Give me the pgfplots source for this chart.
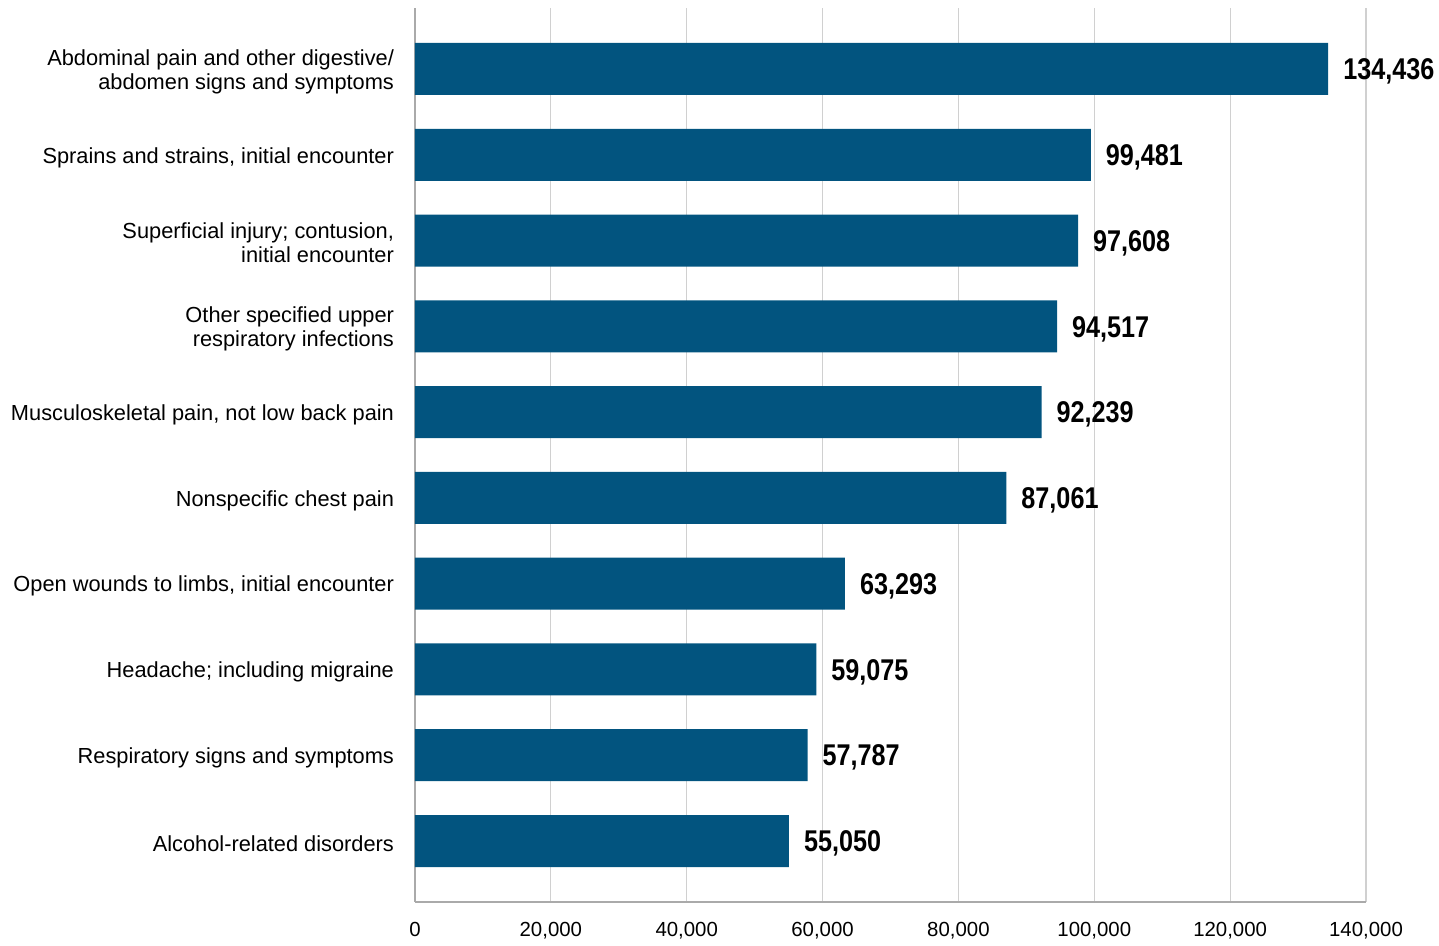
\documentclass[border=0pt]{standalone}
\usepackage{pgfplots}
\pgfplotsset{compat=1.18}
\usepackage{fontspec}
\setmainfont{Liberation Sans}
\definecolor{barblue}{RGB}{2,84,127}
\definecolor{gridgray}{RGB}{208,208,208}
\definecolor{axisgray}{RGB}{170,170,170}
\begin{document}
\begin{tikzpicture}
\path[use as bounding box] (-207.5pt,-22pt) rectangle (512pt,451pt);
\begin{axis}[
  at={(0,0)}, anchor=south west,
  scale only axis, width=475.5pt, height=447pt,
  xbar, bar width=26pt,
  xmin=0, xmax=140000,
  ymin=-0.711, ymax=9.711,
  ytick={0,...,9},
  yticklabels={
    {Alcohol-related disorders},
    {Respiratory signs and symptoms},
    {Headache; including migraine},
    {Open wounds to limbs, initial encounter},
    {Nonspecific chest pain},
    {Musculoskeletal pain, not low back pain},
    {Other specified upper\\respiratory infections},
    {Superficial injury; contusion,\\initial encounter},
    {Sprains and strains, initial encounter},
    {Abdominal pain and other digestive/\\abdomen signs and symptoms}},
  xtick={0,20000,40000,60000,80000,100000,120000,140000},
  xticklabels={0,{20,000},{40,000},{60,000},{80,000},{100,000},{120,000},{140,000}},
  axis x line*=bottom, axis y line*=left,
  axis line style={axisgray, line width=1.2pt, -},
  xmajorgrids, grid style={gridgray, line width=0.6pt},
  major tick length=0,
  yticklabel style={align=right, font=\fontsize{10.9}{12}\selectfont, xshift=-7pt, yshift=-1.3pt},
  xticklabel style={font=\fontsize{10.2}{12}\selectfont, inner sep=0pt, yshift=-10pt},
  point meta=explicit symbolic,
  nodes near coords={\scalebox{0.84}[1]{\pgfplotspointmeta}},
  nodes near coords style={anchor=west, xshift=4pt, yshift=-1.3pt, font=\fontsize{15}{18}\selectfont\bfseries},
]
\addplot[fill=barblue, draw=none] coordinates {
  (55050,0) [55,050] (57787,1) [57,787] (59075,2) [59,075] (63293,3) [63,293] (87061,4) [87,061]
  (92239,5) [92,239] (94517,6) [94,517] (97608,7) [97,608] (99481,8) [99,481] (134436,9) [134,436]
};
\end{axis}
\end{tikzpicture}
\end{document}
